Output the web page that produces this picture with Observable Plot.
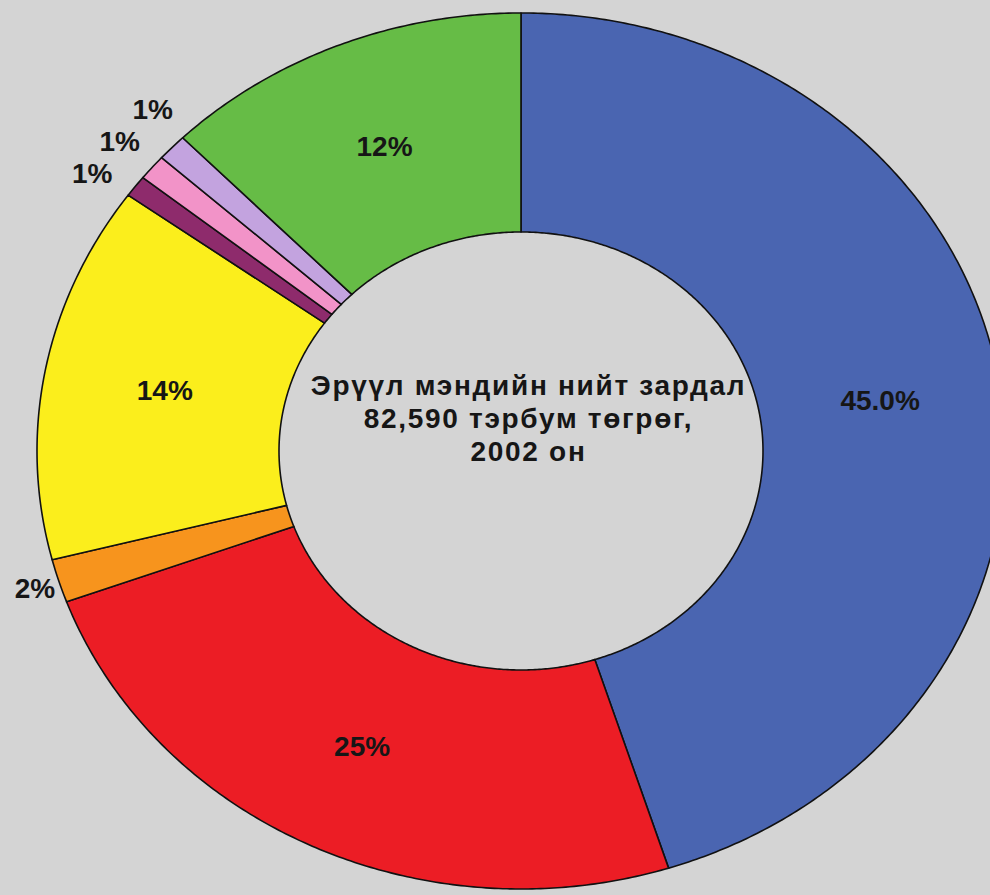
<!DOCTYPE html>
<html><head><meta charset="utf-8">
<script src="https://cdn.jsdelivr.net/npm/d3@7"></script>
<script src="https://cdn.jsdelivr.net/npm/@observablehq/plot@0.6"></script>
<style>
html,body{margin:0;padding:0;background:#d4d4d4;overflow:hidden;}
</style></head><body><div id="chart"></div>
<script>
// Data (clockwise from 12 o'clock), shares
const categories = ["s1","s2","s3","s4","s5","s6","s7","s8"];
const shares = [45.0, 24.3, 1.6, 13.9, 0.8, 0.95, 1.0, 12.3];
const labels = ["45.0%","25%","2%","14%","1%","1%","1%","12%"];
const colors = ["#4a65b1","#ec1d25","#f7941d","#fbee1c","#8e2b6c","#f293c8","#c3a3df","#66bc46"];
const centerTitle = ["Эрүүл мэндийн нийт зардал","82,590 тэрбум төгрөг,","2002 он"];

// Layout
const W = 990, H = 895, CX = 521, CY = 451, RX = 484, RY = 438;
const INNER = 0.5, LABEL_IN = 0.75, SPREAD = 1.09, GAP = 32 / RY, FS = 28;

const total = d3.sum(shares);
let acc = 0;
const arcs = shares.map((v, i) => {
  const a0 = acc / total * 2 * Math.PI; acc += v;
  const a1 = acc / total * 2 * Math.PI;
  return {cat: categories[i], v, label: labels[i], a0, a1, mid: (a0 + a1) / 2};
});

const pts = [];
for (const a of arcs) {
  const n = Math.max(2, Math.ceil((a.a1 - a.a0) / (Math.PI / 360)));
  for (let k = 0; k <= n; k++) {
    const t = a.a0 + (a.a1 - a.a0) * k / n;
    pts.push({cat: a.cat, xo: Math.sin(t), yo: Math.cos(t), xi: INNER * Math.sin(t), yi: INNER * Math.cos(t)});
  }
}

// Labels: inside for big slices; outside (next to the edge, spread when crowded) for small ones
const labelData = arcs.filter(a => a.v > 3).map(a => ({label: a.label, x: LABEL_IN * Math.sin(a.mid), y: LABEL_IN * Math.cos(a.mid)}));
const outside = arcs.filter(a => a.v <= 3).map(a => {
  const s = Math.sin(a.mid), c = Math.cos(a.mid);
  const d = 3 + Math.abs(s) * a.label.length * 0.36 * FS + Math.abs(c) * 0.4 * FS;
  return {label: a.label, mid: a.mid, x: s + s * d / RX, y: c + c * d / RY};
}).sort((p, q) => q.y - p.y);
const clusters = [];
for (const p of outside) {
  const last = clusters[clusters.length - 1], prev = last && last[last.length - 1];
  if (prev && Math.sign(prev.x) === Math.sign(p.x) && prev.y - p.y < GAP) last.push(p);
  else clusters.push([p]);
}
for (const cl of clusters) if (cl.length > 1) {
  const m = d3.mean(cl, p => SPREAD * Math.cos(p.mid));
  cl.forEach((p, i) => {
    p.y = m + ((cl.length - 1) / 2 - i) * GAP;
    p.x = Math.sign(p.x) * Math.sqrt(Math.max(0, SPREAD * SPREAD - p.y * p.y));
  });
}
labelData.push(...outside);

const chart = Plot.plot({
  width: W, height: H, margin: 0,
  x: {axis: null, domain: [-CX / RX, (W - CX) / RX]},
  y: {axis: null, domain: [-(H - CY) / RY, CY / RY]},
  color: {domain: categories, range: colors},
  style: {background: "#d4d4d4", fontFamily: "'Liberation Sans', Arial, sans-serif"},
  marks: [
    Plot.area(pts, {x1: "xi", y1: "yi", x2: "xo", y2: "yo", z: "cat", fill: "cat", stroke: "#111", strokeWidth: 1.6, strokeLinejoin: "round"}),
    Plot.text(labelData, {x: "x", y: "y", text: "label", fontSize: FS, fontWeight: "bold", fill: "#161616"}),
    Plot.text([{x: 0, y: 0, t: centerTitle.join("\n")}], {x: "x", y: "y", text: "t", dx: 7, dy: -34, fontSize: 28, fontWeight: "bold", lineHeight: 1.18, fill: "#161616"})
  ]
});
// widen the centre title a little, like the original's lettering
for (const t of chart.querySelectorAll("text")) {
  if (t.querySelector("tspan") && t.textContent.includes("2002")) t.style.letterSpacing = "1.7px";
}
document.getElementById("chart").appendChild(chart);
</script></body></html>
